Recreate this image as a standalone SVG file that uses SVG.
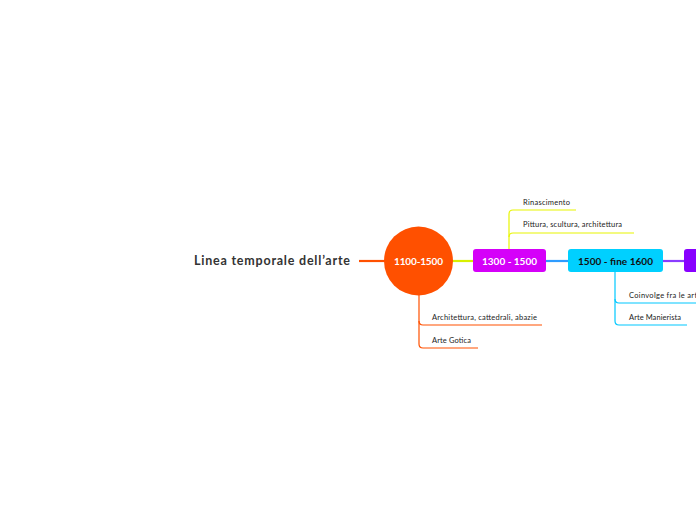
<svg xmlns="http://www.w3.org/2000/svg" width="696" height="520" viewBox="0 0 696 520">
<style>
.lbl{font-family:Lato,"Open Sans",sans-serif;font-size:7.5px;fill:#222}
.box{font-family:Lato,"Open Sans",sans-serif;font-size:10px;font-weight:bold;text-anchor:middle}
.br{fill:none;stroke-width:1.2}
</style>
<rect width="696" height="520" fill="#fff"/>
<g id="connectors">
<line x1="359" y1="261" x2="386" y2="261" stroke="#FF5000" stroke-width="2.2"/>
<line x1="452" y1="261" x2="474" y2="261" stroke="#D8F000" stroke-width="2.2"/>
<line x1="546" y1="261" x2="569" y2="261" stroke="#2E9CFF" stroke-width="2.2"/>
<line x1="663" y1="261" x2="685" y2="261" stroke="#8A3CFF" stroke-width="2.2"/>
<path class="br" stroke="#E8F500" d="M509 249 V214 Q509 210 513 210 H576"/>
<path class="br" stroke="#E8F500" d="M509 237 Q509 233 513 233 H634"/>
<path class="br" stroke="#00C8FF" d="M615 272 V321 Q615 325 619 325 H687"/>
<path class="br" stroke="#00C8FF" d="M615 299 Q615 303 619 303 H696"/>
<path class="br" stroke="#FF5000" d="M419 295 V344 Q419 348 423 348 H478"/>
<path class="br" stroke="#FF5000" d="M419 321 Q419 325 423 325 H542"/>
</g>
<g id="title"><text x="194" y="265" textLength="156" lengthAdjust="spacing" style="font-family:Lato,'Open Sans',sans-serif;font-size:12.5px;font-weight:bold;fill:#333">Linea temporale dell’arte</text></g>
<g id="n1100"><circle cx="418.5" cy="261" r="34.5" fill="#FF5000"/><text class="box" x="418.5" y="264.5" fill="#fff" textLength="49" lengthAdjust="spacing">1100-1500</text></g>
<g id="n1300"><rect x="473" y="249" width="73" height="23" rx="3" fill="#D500F9"/><text class="box" x="509.5" y="264.5" fill="#fff" textLength="55" lengthAdjust="spacing">1300 - 1500</text></g>
<g id="n1500"><rect x="568" y="249" width="95" height="23" rx="3" fill="#00D0FF"/><text class="box" x="615.5" y="264.5" fill="#111" textLength="75" lengthAdjust="spacing">1500 - fine 1600</text></g>
<g id="n1600"><rect x="684" y="249" width="30" height="23" rx="3" fill="#8800FF"/></g>
<g id="l1"><text class="lbl" x="523" y="205" textLength="47" lengthAdjust="spacing">Rinascimento</text></g>
<g id="l2"><text class="lbl" x="523" y="227" textLength="99" lengthAdjust="spacing">Pittura, scultura, architettura</text></g>
<g id="l3"><text class="lbl" x="629" y="298" textLength="70" lengthAdjust="spacing">Coinvolge fra le arti</text></g>
<g id="l4"><text class="lbl" x="629" y="320" textLength="52" lengthAdjust="spacing">Arte Manierista</text></g>
<g id="l5"><text class="lbl" x="432" y="320" textLength="105" lengthAdjust="spacing">Architettura, cattedrali, abazie</text></g>
<g id="l6"><text class="lbl" x="432" y="343" textLength="39" lengthAdjust="spacing">Arte Gotica</text></g>
</svg>
